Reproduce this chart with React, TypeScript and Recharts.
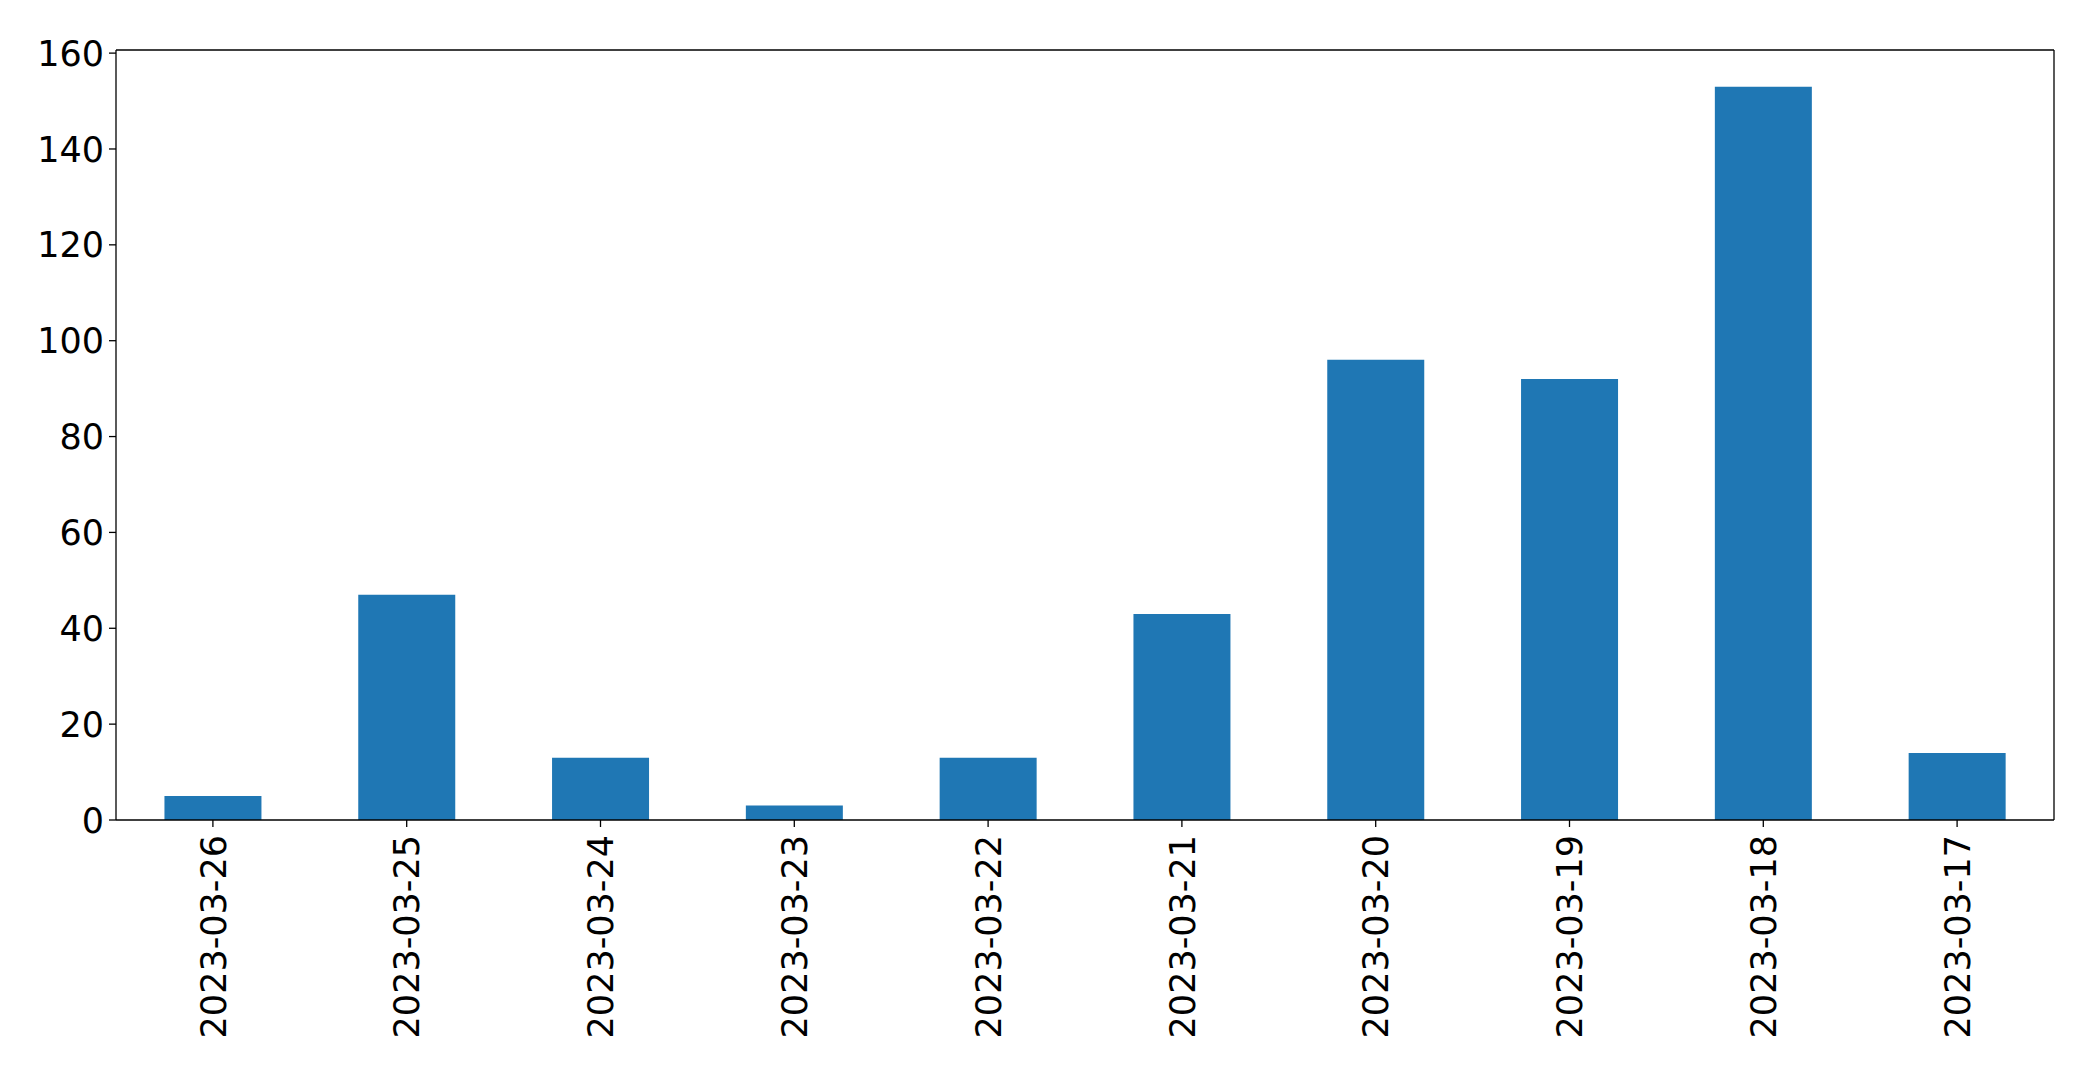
import React from "react";
import { BarChart, Bar, XAxis, YAxis } from "recharts";

const dates = [
  "2023-03-26",
  "2023-03-25",
  "2023-03-24",
  "2023-03-23",
  "2023-03-22",
  "2023-03-21",
  "2023-03-20",
  "2023-03-19",
  "2023-03-18",
  "2023-03-17",
];
const counts = [5, 47, 13, 3, 13, 43, 96, 92, 153, 14];
const yTicks = [0, 20, 40, 60, 80, 100, 120, 140, 160];

const data = dates.map((d, i) => ({ date: d, count: counts[i] }));

const FONT = "'DejaVu Sans', sans-serif";
const FS = 35;

function DateTick(props: any) {
  const { x, y, payload } = props;
  return (
    <g transform={`translate(${x},${y})`}>
      <text
        transform="rotate(-90)"
        textAnchor="end"
        dy="0.36em"
        fontFamily={FONT}
        fontSize={FS}
        fill="#000"
      >
        {payload.value}
      </text>
    </g>
  );
}

function ValueTick(props: any) {
  const { x, y, payload } = props;
  return (
    <text
      x={x}
      y={y}
      dy="0.36em"
      textAnchor="end"
      fontFamily={FONT}
      fontSize={FS}
      fill="#000"
    >
      {payload.value}
    </text>
  );
}

const line = { stroke: "#000", strokeWidth: 1.3 };

export default function App() {
  return (
    <div style={{ position: "absolute", left: 0, top: 0, background: "#fff" }}>
      <BarChart
        width={2093}
        height={1072}
        data={data}
        margin={{ top: 49, right: 38, bottom: 0, left: 0 }}
        barCategoryGap="25%"
      >
        <XAxis
          dataKey="date"
          height={252}
          interval={0}
          tick={<DateTick />}
          tickSize={7}
          tickMargin={8}
          axisLine={line}
          tickLine={line}
        />
        <XAxis
          xAxisId="top"
          dataKey="date"
          orientation="top"
          height={1}
          tick={false}
          tickLine={false}
          axisLine={line}
        />
        <YAxis
          width={116}
          domain={[0, 160.65]}
          ticks={yTicks}
          interval={0}
          tickSize={7}
          tickMargin={5}
          tick={<ValueTick />}
          axisLine={line}
          tickLine={line}
        />
        <YAxis
          yAxisId="right"
          orientation="right"
          width={1}
          domain={[0, 160.65]}
          tick={false}
          tickLine={false}
          axisLine={line}
        />
        <Bar dataKey="count" fill="#1f77b4" isAnimationActive={false} />
      </BarChart>
    </div>
  );
}
